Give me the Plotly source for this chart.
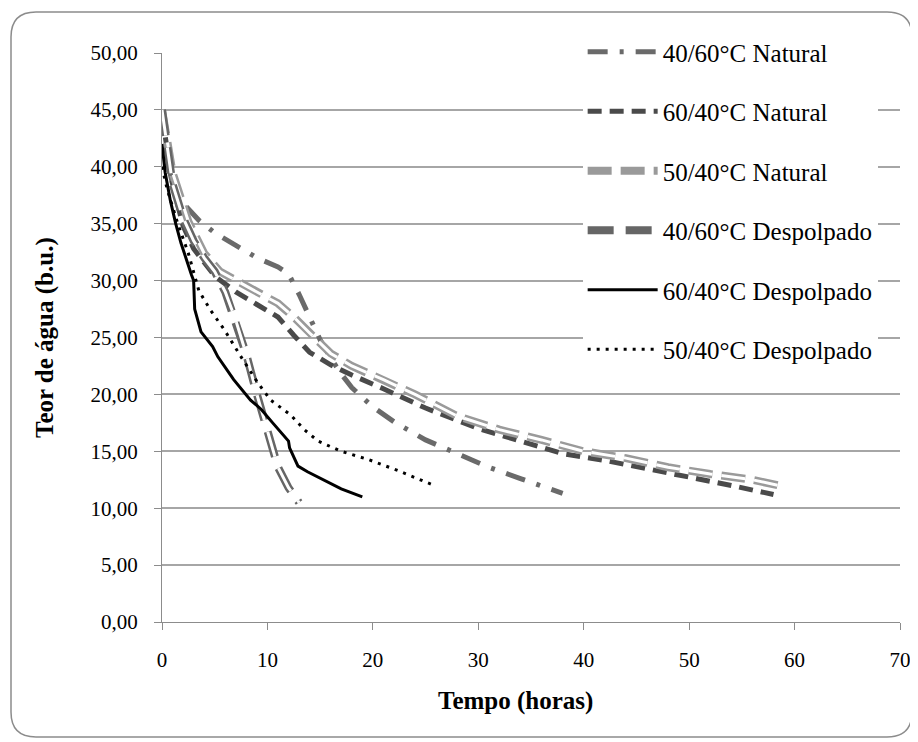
import plotly.graph_objects as go

# tempo (horas) / teor de agua (b.u.)
t_4060_nat = [0, 0.5, 1, 2, 3.5, 5, 7, 9, 11, 12, 13, 14, 15, 16, 17, 18, 20, 22, 25, 28, 31, 34, 36, 38]
y_4060_nat = [44.5, 40.5, 38.5, 36.8, 35.3, 34.2, 33.1, 32.0, 31.2, 30.6, 28.8, 26.8, 24.8, 23.2, 21.8, 20.6, 18.9, 17.6, 16.0, 14.8, 13.6, 12.6, 12.0, 11.3]

t_6040_nat = [0, 1, 2, 3, 5, 7, 9, 11, 12.5, 14, 16, 18, 21, 25, 30, 34, 38, 42, 46, 50, 54, 58]
y_6040_nat = [44.5, 38.5, 34.8, 32.8, 30.4, 29.0, 27.9, 26.8, 25.2, 23.7, 22.6, 21.7, 20.5, 18.8, 17.0, 15.9, 14.8, 14.2, 13.5, 12.7, 12.0, 11.2]

t_5040_nat = [0, 1, 2.5, 4, 5.5, 7, 9, 11, 12.5, 14, 16, 18, 21, 24, 28, 32, 36, 40, 44, 48, 52, 56, 58.5]
y_5040_nat = [45.0, 39.5, 35.2, 32.4, 30.8, 30.0, 29.0, 28.0, 26.8, 25.4, 23.6, 22.5, 21.3, 20.0, 18.1, 16.9, 16.0, 15.0, 14.4, 13.6, 13.0, 12.5, 12.0]

t_4060_desp = [0, 0.5, 1, 2, 3, 4, 5, 6, 7, 8, 9, 10, 11, 12, 13]
y_4060_desp = [45.0, 41.5, 38.5, 35.5, 33.5, 32.0, 30.8, 29.0, 26.5, 23.5, 20.0, 16.8, 13.6, 11.8, 10.5]

t_6040_desp = [0, 0.3, 0.8, 1.3, 1.8, 2.3, 2.8, 3.0, 3.1, 3.7, 4.8, 5.3, 6.8, 8.4, 9.4, 10.5, 11.6, 12.0, 12.1, 12.9, 13.8, 15.7, 17.0, 19.0]
y_6040_desp = [42.0, 39.5, 37.0, 35.0, 33.3, 31.8, 30.5, 30.0, 27.5, 25.5, 24.2, 23.3, 21.3, 19.5, 18.7, 17.5, 16.3, 15.9, 15.3, 13.7, 13.2, 12.3, 11.7, 11.0]

t_5040_desp = [0, 0.5, 1, 1.5, 2.5, 3.5, 4.6, 5.9, 7.5, 9.1, 10.3, 12.2, 13.5, 14.8, 17, 19.5, 22.4, 25.8]
y_5040_desp = [40.0, 38.0, 36.5, 35.0, 32.4, 29.1, 27.4, 25.7, 23.3, 21.0, 19.5, 18.2, 16.9, 15.9, 15.0, 14.3, 13.3, 12.0]

x_ticks = [0, 10, 20, 30, 40, 50, 60, 70]
y_ticks = [0, 5, 10, 15, 20, 25, 30, 35, 40, 45, 50]
y_labels = ["0,00", "5,00", "10,00", "15,00", "20,00", "25,00", "30,00", "35,00", "40,00", "45,00", "50,00"]

FONT = "Liberation Serif"
# page body has an 8px margin, so the figure is drawn 8px smaller and offset
OFF = 8
W, H = 918 - OFF, 742 - OFF
L, T = 162 - OFF, 53 - OFF
pw, ph = 738, 569
R, B = W - L - pw, H - T - ph

fig = go.Figure()

fig.add_trace(go.Scatter(x=t_4060_nat, y=y_4060_nat, mode="lines", name="40/60°C Natural",
                         legendgroup="a", line=dict(color="#6a6a6a", width=5, dash="20px,12px,4px,12px")))
fig.add_trace(go.Scatter(x=t_6040_nat, y=y_6040_nat, mode="lines", name="60/40°C Natural",
                         legendgroup="b", line=dict(color="#4a4a4a", width=5, dash="14px,8px")))
fig.add_trace(go.Scatter(x=t_5040_nat, y=y_5040_nat, mode="lines", name="50/40°C Natural",
                         legendgroup="c", line=dict(color="#9a9a9a", width=8, dash="24px,9px")))
fig.add_trace(go.Scatter(x=t_5040_nat, y=y_5040_nat, mode="lines", showlegend=False, hoverinfo="skip",
                         legendgroup="c", line=dict(color="white", width=3, dash="24px,9px")))
fig.add_trace(go.Scatter(x=t_4060_desp, y=y_4060_desp, mode="lines", name="40/60°C Despolpado",
                         legendgroup="d", line=dict(color="#666666", width=8, dash="26px,12px")))
fig.add_trace(go.Scatter(x=t_4060_desp, y=y_4060_desp, mode="lines", showlegend=False, hoverinfo="skip",
                         legendgroup="d", line=dict(color="white", width=3, dash="26px,12px")))
fig.add_trace(go.Scatter(x=t_6040_desp, y=y_6040_desp, mode="lines", name="60/40°C Despolpado",
                         legendgroup="e", line=dict(color="black", width=3)))
fig.add_trace(go.Scatter(x=t_5040_desp, y=y_5040_desp, mode="lines", name="50/40°C Despolpado",
                         legendgroup="f", line=dict(color="black", width=3, dash="3px,6px")))

def px(x, y):
    # screenshot pixel -> paper coords
    return (x - OFF - L) / pw, (T + ph - (y - OFF)) / ph

# rounded frame around the whole chart
x0, y0 = px(11, 12)
x1, y1 = px(912, 737)
rx, ry = 25 / pw, 25 / ph
path = (f"M {x0+rx},{y0} L {x1-rx},{y0} Q {x1},{y0} {x1},{y0-ry} "
        f"L {x1},{y1+ry} Q {x1},{y1} {x1-rx},{y1} L {x0+rx},{y1} "
        f"Q {x0},{y1} {x0},{y1+ry} L {x0},{y0-ry} Q {x0},{y0} {x0+rx},{y0} Z")
fig.add_shape(type="path", path=path, xref="paper", yref="paper",
              line=dict(color="#8c8c8c", width=1.5), layer="below")

# axis titles
tx, ty = px(515, 701)
fig.add_annotation(text="<b>Tempo (horas)</b>", x=tx, y=ty, xref="paper", yref="paper",
                   showarrow=False, xanchor="center", yanchor="middle",
                   font=dict(family=FONT, size=25, color="black"))
tx, ty = px(45, 338)
fig.add_annotation(text="<b>Teor de água (b.u.)</b>", x=tx, y=ty, xref="paper", yref="paper",
                   showarrow=False, xanchor="center", yanchor="middle", textangle=-90,
                   font=dict(family=FONT, size=25, color="black"))

fig.update_layout(
    width=W, height=H,
    margin=dict(l=L, r=R, t=T, b=B, autoexpand=False),
    paper_bgcolor="white", plot_bgcolor="white",
    font=dict(family=FONT, size=21, color="black"),
    showlegend=True,
    legend=dict(x=0.570, y=1.042, xanchor="left", yanchor="top", bgcolor="white",
                font=dict(family=FONT, size=25), tracegroupgap=24, itemwidth=70),
)
fig.update_xaxes(range=[0, 70], tickvals=x_ticks, automargin=False,
                 showgrid=False, zeroline=False, showline=True, linecolor="#8c8c8c",
                 ticks="outside", ticklen=7, tickcolor="#8c8c8c", ticklabelstandoff=12)
fig.update_yaxes(range=[0, 50], tickvals=y_ticks, ticktext=y_labels, automargin=False,
                 showgrid=True, gridcolor="#a6a6a6", gridwidth=1.5, zeroline=False,
                 showline=True, linecolor="#8c8c8c", ticks="outside", ticklen=7, tickcolor="#8c8c8c",
                 ticklabelstandoff=12)

fig.write_html("out.html")
